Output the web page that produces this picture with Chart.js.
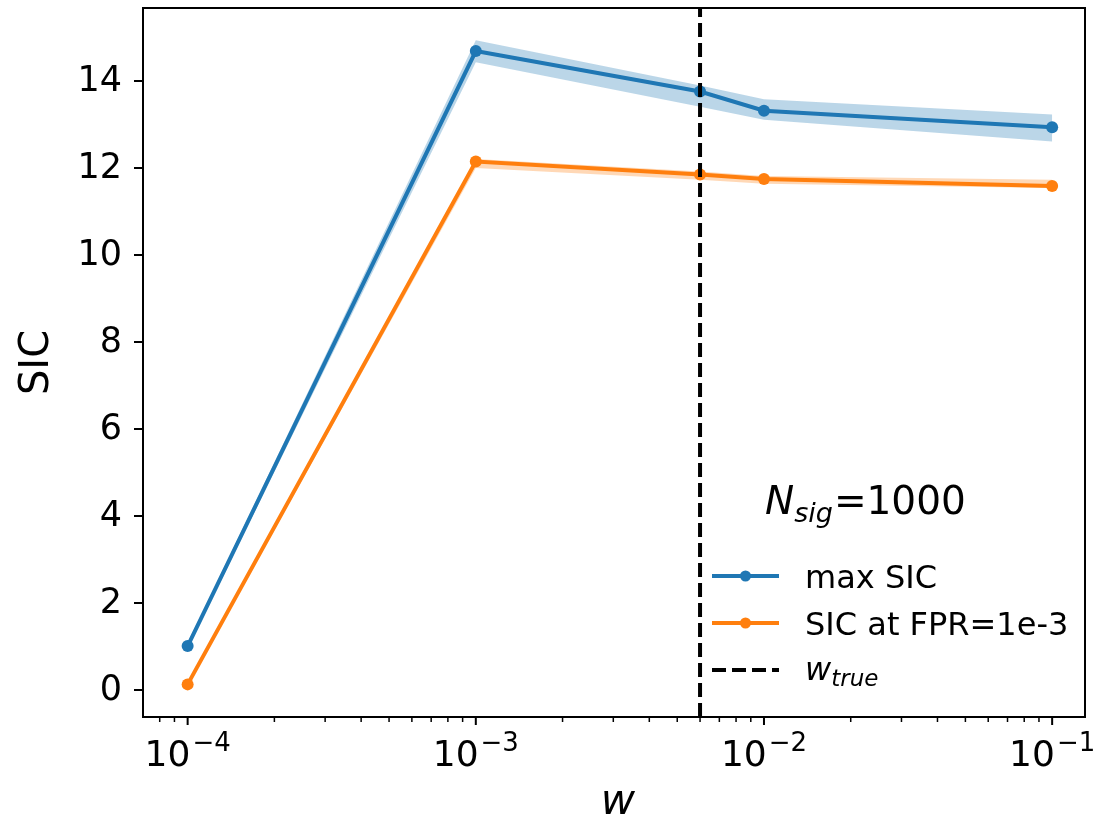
<!DOCTYPE html>
<html>
<head>
<meta charset="utf-8">
<script src="https://cdn.jsdelivr.net/npm/chart.js@4.4.1/dist/chart.umd.min.js"></script>
<style>
  html, body { margin: 0; padding: 0; background: #fff; }
  #wrap { width: 1097px; height: 819px; }
</style>
</head>
<body>
<div id="wrap"><canvas id="sicChart" width="1097" height="819"></canvas></div>
<script>
// values
const wValues = [1e-4, 1e-3, 6e-3, 1e-2, 1e-1];
const maxSic = [1.01, 14.69, 13.76, 13.32, 12.94];
const maxSicUpper = [1.06, 14.94, 13.90, 13.58, 13.23];
const maxSicLower = [0.96, 14.43, 13.41, 13.11, 12.61];
const sicAtFpr = [0.13, 12.15, 11.85, 11.75, 11.59];
const sicAtFprUpper = [0.17, 12.21, 11.92, 11.82, 11.73];
const sicAtFprLower = [0.09, 12.00, 11.73, 11.64, 11.54];
const wTrue = 6e-3;

const xMin = Math.pow(10, -4.146);
const xMax = Math.pow(10, -0.886);
const yMin = -0.62;
const yMax = 15.68;
const xMajorTicks = [1e-4, 1e-3, 1e-2, 1e-1];
const xTickExponents = ['\u22124', '\u22123', '\u22122', '\u22121'];
const yTicks = [0, 2, 4, 6, 8, 10, 12, 14];

const blue = '#1f77b4';
const orange = '#ff7f0e';
const FONT = "'DejaVu Sans', sans-serif";
const LW = 4;
const DASH = [14, 6];

function pts(ys) {
    return wValues.map((w, i) => ({ x: w, y: ys[i] }));
}

const decor = {
    id: 'decor',
    afterDraw(chart) {
        const ctx = chart.ctx;
        const a = chart.chartArea;
        const x = chart.scales.x;
        const y = chart.scales.y;
        ctx.save();

        // frame
        ctx.strokeStyle = '#000';
        ctx.lineWidth = 2;
        ctx.setLineDash([]);
        ctx.strokeRect(a.left, a.top, a.right - a.left, a.bottom - a.top);

        // y ticks + labels
        ctx.beginPath();
        yTicks.forEach(v => {
            const py = y.getPixelForValue(v);
            ctx.moveTo(a.left - 9, py);
            ctx.lineTo(a.left, py);
        });
        ctx.stroke();
        ctx.fillStyle = '#000';
        ctx.font = '35px ' + FONT;
        ctx.textAlign = 'right';
        ctx.textBaseline = 'middle';
        yTicks.forEach(v => {
            ctx.fillText(String(v), a.left - 21, y.getPixelForValue(v) + 1);
        });

        // x ticks, major + minor
        ctx.beginPath();
        xMajorTicks.forEach(v => {
            const px = x.getPixelForValue(v);
            ctx.moveTo(px, a.bottom);
            ctx.lineTo(px, a.bottom + 8);
        });
        ctx.stroke();
        ctx.lineWidth = 1.5;
        ctx.beginPath();
        for (let d = -5; d <= 0; d++) {
            for (let k = 2; k <= 9; k++) {
                const v = k * Math.pow(10, d);
                if (v < xMin || v > xMax) continue;
                const px = x.getPixelForValue(v);
                ctx.moveTo(px, a.bottom);
                ctx.lineTo(px, a.bottom + 5);
            }
        }
        ctx.stroke();

        // x tick labels 10^-n
        ctx.textBaseline = 'alphabetic';
        ctx.textAlign = 'left';
        xMajorTicks.forEach((v, i) => {
            const px = x.getPixelForValue(v);
            ctx.font = '36px ' + FONT;
            const wBase = ctx.measureText('10').width;
            ctx.font = '26px ' + FONT;
            const wExp = ctx.measureText(xTickExponents[i]).width;
            const start = px - (wBase + wExp + 2) / 2;
            ctx.font = '36px ' + FONT;
            ctx.fillText('10', start, 766);
            ctx.font = '26px ' + FONT;
            ctx.fillText(xTickExponents[i], start + wBase + 2, 751);
        });

        // axis titles
        ctx.font = 'italic 42px ' + FONT;
        ctx.textAlign = 'center';
        ctx.fillText('w', (a.left + a.right) / 2 + 4, 814);

        ctx.save();
        ctx.translate(38, (a.top + a.bottom) / 2);
        ctx.rotate(-Math.PI / 2);
        ctx.font = '40px ' + FONT;
        ctx.textBaseline = 'middle';
        ctx.fillText('SIC', 0, 0);
        ctx.restore();

        // legend title
        ctx.textAlign = 'left';
        ctx.textBaseline = 'alphabetic';
        let tx = 765;
        ctx.font = 'italic 39px ' + FONT;
        ctx.fillText('N', tx, 514);
        tx += ctx.measureText('N').width;
        ctx.font = 'italic 27px ' + FONT;
        ctx.fillText('sig', tx, 522);
        tx += ctx.measureText('sig').width + 1;
        ctx.font = '39px ' + FONT;
        ctx.fillText('=1000', tx, 514);

        // legend entries
        const lx0 = 712, lx1 = 779, textX = 805;
        const rows = [
            { y: 576, color: blue, label: 'max SIC' },
            { y: 623, color: orange, label: 'SIC at FPR=1e-3' }
        ];
        rows.forEach(r => {
            ctx.strokeStyle = r.color;
            ctx.lineWidth = LW;
            ctx.setLineDash([]);
            ctx.beginPath();
            ctx.moveTo(lx0, r.y);
            ctx.lineTo(lx1, r.y);
            ctx.stroke();
            ctx.fillStyle = r.color;
            ctx.beginPath();
            ctx.arc((lx0 + lx1) / 2, r.y, 5.5, 0, Math.PI * 2);
            ctx.fill();
            ctx.fillStyle = '#000';
            ctx.font = '32px ' + FONT;
            ctx.fillText(r.label, textX, r.y + 12);
        });
        ctx.strokeStyle = '#000';
        ctx.lineWidth = LW;
        ctx.setLineDash(DASH);
        ctx.beginPath();
        ctx.moveTo(lx0, 670);
        ctx.lineTo(lx1, 670);
        ctx.stroke();
        ctx.setLineDash([]);
        ctx.fillStyle = '#000';
        ctx.font = 'italic 32px ' + FONT;
        ctx.fillText('w', textX, 680);
        const ww = ctx.measureText('w').width;
        ctx.font = 'italic 23px ' + FONT;
        ctx.fillText('true', textX + ww, 686);

        ctx.restore();
    }
};

function initializeChart() {
    const ctx = document.getElementById('sicChart').getContext('2d');
    new Chart(ctx, {
        type: 'line',
        data: {
            datasets: [
                {
                    label: 'w_true',
                    data: [{ x: wTrue, y: yMin }, { x: wTrue, y: yMax }],
                    borderColor: '#000',
                    borderWidth: LW,
                    borderDash: DASH,
                    pointRadius: 0,
                    fill: false,
                    order: 0
                },
                {
                    label: 'max SIC',
                    data: pts(maxSic),
                    borderColor: blue,
                    backgroundColor: blue,
                    borderWidth: LW,
                    pointRadius: 6,
                    pointBorderWidth: 0,
                    fill: false,
                    order: 1
                },
                {
                    label: 'SIC at FPR=1e-3',
                    data: pts(sicAtFpr),
                    borderColor: orange,
                    backgroundColor: orange,
                    borderWidth: LW,
                    pointRadius: 6,
                    pointBorderWidth: 0,
                    fill: false,
                    order: 2
                },
                {
                    label: 'max upper',
                    data: pts(maxSicUpper),
                    borderWidth: 0,
                    pointRadius: 0,
                    backgroundColor: 'rgba(31,119,180,0.3)',
                    fill: '+1',
                    order: 3
                },
                {
                    label: 'max lower',
                    data: pts(maxSicLower),
                    borderWidth: 0,
                    pointRadius: 0,
                    fill: false,
                    order: 4
                },
                {
                    label: 'fpr upper',
                    data: pts(sicAtFprUpper),
                    borderWidth: 0,
                    pointRadius: 0,
                    backgroundColor: 'rgba(255,127,14,0.3)',
                    fill: '+1',
                    order: 5
                },
                {
                    label: 'fpr lower',
                    data: pts(sicAtFprLower),
                    borderWidth: 0,
                    pointRadius: 0,
                    fill: false,
                    order: 6
                }
            ]
        },
        options: {
            responsive: false,
            animation: false,
            layout: { padding: { top: 8, right: 12, left: 0, bottom: 0 } },
            plugins: {
                legend: { display: false },
                tooltip: { enabled: false }
            },
            scales: {
                x: {
                    type: 'logarithmic',
                    min: xMin,
                    max: xMax,
                    ticks: { display: false },
                    grid: { display: false },
                    border: { display: false },
                    afterFit: s => { s.height = 102; }
                },
                y: {
                    type: 'linear',
                    min: yMin,
                    max: yMax,
                    ticks: { display: false },
                    grid: { display: false },
                    border: { display: false },
                    afterFit: s => { s.width = 143; }
                }
            }
        },
        plugins: [decor]
    });
}

window.onload = initializeChart;
</script>
</body>
</html>
